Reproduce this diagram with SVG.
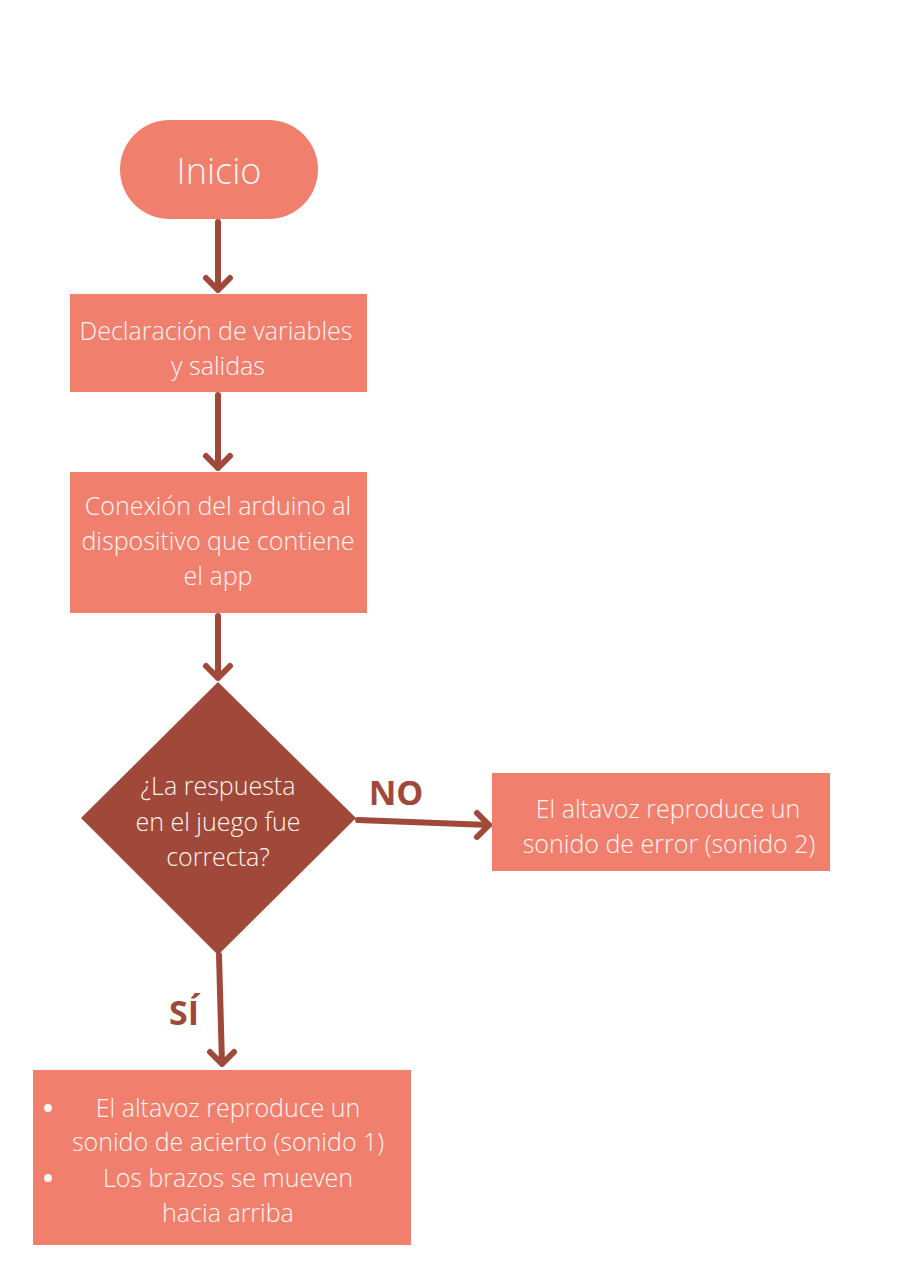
<svg xmlns="http://www.w3.org/2000/svg" width="904" height="1280" viewBox="0 0 904 1280">
<style>
.box{fill:#F0806D}
.dia{fill:#A0493A}
.t{font-family:"Open Sans","Liberation Sans",sans-serif;font-weight:300;fill:#FFF5F2;text-anchor:middle;font-size:25px}
.lbl{font-family:"Open Sans","Liberation Sans",sans-serif;font-weight:700;fill:#A0493A;font-size:34px;text-anchor:middle}
.c{fill:none;stroke:#A0493A;stroke-width:6;stroke-linecap:round;stroke-linejoin:round}
</style>
<rect width="904" height="1280" fill="#FFFFFF"/>
<g id="connectors">
<path class="c" d="M218 222 V290 M206 278 L218 290 L230 278"/>
<path class="c" d="M218 395 V468 M206 456 L218 468 L230 456"/>
<path class="c" d="M218 616 V678 M206 666 L218 678 L230 666"/>
<path class="c" d="M358 820 L489 825 M477 813 L489 825 L477 837"/>
<path class="c" d="M219 955 L222 1064 M210 1052 L222 1064 L234 1052"/>
</g>
<g id="start">
<rect class="box" x="120" y="120" width="198" height="99" rx="49.5"/>
<text class="t" x="219" y="184" style="font-size:36px">Inicio</text>
</g>
<g id="declaracion">
<rect class="box" x="70" y="294" width="297" height="98"/>
<text class="t" x="216" y="340">Declaración de variables</text>
<text class="t" x="218" y="375">y salidas</text>
</g>
<g id="conexion">
<rect class="box" x="70" y="472" width="297" height="141"/>
<text class="t" x="218" y="515">Conexión del arduino al</text>
<text class="t" x="218" y="550">dispositivo que contiene</text>
<text class="t" x="218" y="585">el app</text>
</g>
<g id="decision">
<polygon class="dia" points="218,682 356,818 218,955 81,818"/>
<text class="t" x="218" y="795">¿La respuesta</text>
<text class="t" x="218" y="831">en el juego fue</text>
<text class="t" x="218" y="866">correcta?</text>
</g>
<g id="labels">
<text class="lbl" x="396" y="805">NO</text>
<text class="lbl" x="184" y="1025">SÍ</text>
</g>
<g id="error">
<rect class="box" x="492" y="773" width="338" height="98"/>
<text class="t" x="668" y="818">El altavoz reproduce un</text>
<text class="t" x="669" y="853">sonido de error (sonido 2)</text>
</g>
<g id="acierto">
<rect class="box" x="33" y="1070" width="378" height="175"/>
<circle cx="48" cy="1108" r="4" fill="#FFF5F2"/>
<circle cx="48" cy="1178" r="4" fill="#FFF5F2"/>
<text class="t" x="228" y="1117">El altavoz reproduce un</text>
<text class="t" x="228" y="1151">sonido de acierto (sonido 1)</text>
<text class="t" x="228" y="1187">Los brazos se mueven</text>
<text class="t" x="228" y="1222">hacia arriba</text>
</g>
</svg>
